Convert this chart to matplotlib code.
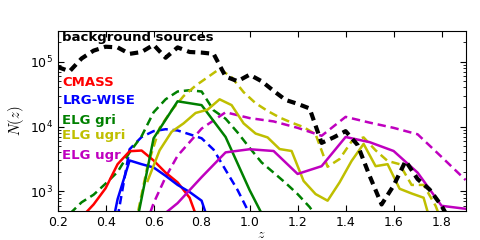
import matplotlib
matplotlib.use("Agg")
import matplotlib.pyplot as plt

# ---- data ----
z_bg = [0.2, 0.25, 0.3, 0.35, 0.4, 0.45, 0.5, 0.55, 0.6, 0.65, 0.7, 0.75, 0.8, 0.85,
        0.9, 0.95, 1.0, 1.05, 1.1, 1.15, 1.2, 1.25, 1.3, 1.35, 1.4, 1.45, 1.5, 1.55,
        1.6, 1.65, 1.7, 1.75, 1.8, 1.85, 1.9]
n_bg = [83000, 71000, 112000, 148000, 170000, 166000, 132000, 141000, 182000, 115000,
        166000, 141000, 138000, 132000, 59000, 50000, 63000, 50000, 35500, 25700,
        22400, 19000, 5600, 6800, 8500, 5200, 1740, 630, 1230, 2950, 1550, 1070,
        600, 280, 200]

z_cmass = [0.3, 0.35, 0.4, 0.45, 0.5, 0.55, 0.6, 0.65, 0.7, 0.75, 0.8]
n_cmass = [400, 630, 1120, 2630, 4170, 4270, 3000, 1950, 1380, 800, 250]

z_lrg = [0.4, 0.45, 0.5, 0.55, 0.6, 0.65, 0.7, 0.75, 0.8, 0.85]
n_lrg = [95, 760, 3000, 2630, 2340, 1740, 1260, 980, 720, 200]

z_lrg_d = [0.45, 0.5, 0.55, 0.6, 0.65, 0.7, 0.75, 0.8, 0.85, 0.9, 0.95, 1.0]
n_lrg_d = [400, 4470, 6900, 8500, 9100, 8700, 7600, 6600, 4400, 2140, 1050, 450]

z_gri = [0.5, 0.6, 0.7, 0.8, 0.9, 1.0, 1.1]
n_gri = [93, 6600, 24500, 21400, 6900, 1050, 200]

z_gri_d = [0.2, 0.25, 0.3, 0.35, 0.4, 0.45, 0.5, 0.55, 0.6, 0.65, 0.7, 0.75, 0.8,
           0.85, 0.9, 0.95, 1.0, 1.05, 1.1, 1.15, 1.2, 1.25, 1.3]
n_gri_d = [200, 450, 680, 890, 1320, 2000, 4000, 7100, 16600, 26300, 34700, 36300,
           34700, 17800, 13200, 8100, 4700, 2800, 1950, 1350, 910, 575, 320]

z_ugri = [0.575, 0.625, 0.675, 0.725, 0.775, 0.825, 0.875, 0.925, 0.975, 1.025,
          1.075, 1.125, 1.175, 1.225, 1.275, 1.325, 1.375, 1.425, 1.475, 1.525,
          1.575, 1.625, 1.675, 1.725, 1.775]
n_ugri = [1450, 4300, 8300, 11200, 16200, 18200, 26300, 21400, 11200, 7800, 6800,
          4500, 4200, 1450, 910, 720, 1380, 2950, 5400, 2450, 2630, 1100, 930, 800, 180]

z_ugri_d = [0.525, 0.575, 0.625, 0.675, 0.725, 0.775, 0.825, 0.875, 0.925, 0.975,
            1.025, 1.075, 1.125, 1.175, 1.225, 1.275, 1.325, 1.375, 1.425, 1.475,
            1.525, 1.575, 1.625, 1.675, 1.725, 1.775, 1.825]
n_ugri_d = [320, 2500, 9500, 17800, 29500, 42700, 57500, 77600, 57500, 33900, 22900,
            17400, 13800, 11500, 9800, 7600, 2400, 3160, 5900, 6800, 4300, 2950, 2630,
            1260, 1260, 600, 200]

z_ugr = [0.6, 0.7, 0.8, 0.9, 1.0, 1.1, 1.2, 1.3, 1.4, 1.5, 1.6, 1.7, 1.8, 1.9]
n_ugr = [330, 660, 1660, 4000, 4470, 4200, 1860, 2450, 6900, 5750, 4200, 1950, 600, 540]

z_ugr_d = [0.55, 0.6, 0.65, 0.7, 0.8, 0.9, 1.0, 1.1, 1.2, 1.3, 1.4, 1.5, 1.6, 1.7, 1.8, 1.9]
n_ugr_d = [200, 660, 1660, 3550, 9300, 16600, 13500, 12000, 9550, 7200, 14100, 11500,
           9550, 7600, 3400, 1500]

labels = ["background sources", "CMASS", "LRG-WISE", "ELG gri", "ELG ugri", "ELG ugr"]
label_y = [234000, 48500, 24800, 12200, 7300, 3600]

# ---- style ----
plt.rcParams['lines.scale_dashes'] = False
plt.rcParams['xtick.direction'] = 'in'
plt.rcParams['ytick.direction'] = 'in'
plt.rcParams['xtick.top'] = True
plt.rcParams['ytick.right'] = True
plt.rcParams['xtick.major.size'] = 4
plt.rcParams['ytick.major.size'] = 4
plt.rcParams['ytick.minor.size'] = 2
plt.rcParams['font.size'] = 9
plt.rcParams['mathtext.fontset'] = 'cm'

fig = plt.figure(figsize=(4.8, 2.4), dpi=100)
ax = fig.add_axes([0.120, 0.121, 0.850, 0.751])

c_y = (0.75, 0.75, 0.0)
c_m = (0.75, 0.0, 0.75)
c_g = (0.0, 0.5, 0.0)
dash = (6, 3.5)
lw = 1.8

ax.plot(z_lrg_d, n_lrg_d, color='b', lw=lw, dashes=dash)
ax.plot(z_gri_d, n_gri_d, color=c_g, lw=lw, dashes=dash)
ax.plot(z_ugri_d, n_ugri_d, color=c_y, lw=lw, dashes=dash)
ax.plot(z_ugr_d, n_ugr_d, color=c_m, lw=lw, dashes=dash)
ax.plot(z_cmass, n_cmass, color='r', lw=lw)
ax.plot(z_lrg, n_lrg, color='b', lw=lw)
ax.plot(z_gri, n_gri, color=c_g, lw=lw)
ax.plot(z_ugri, n_ugri, color=c_y, lw=lw)
ax.plot(z_ugr, n_ugr, color=c_m, lw=lw)
ax.plot(z_bg, n_bg, color='k', lw=3, dashes=(6, 4))

ax.set_yscale('log')
ax.set_xlim(0.2, 1.9)
ax.set_ylim(500, 3e5)
ax.set_xticks([0.2, 0.4, 0.6, 0.8, 1.0, 1.2, 1.4, 1.6, 1.8])
ax.set_xticklabels(['0.2', '0.4', '0.6', '0.8', '1.0', '1.2', '1.4', '1.6', '1.8'])
ax.set_xlabel('$z$', fontsize=10, labelpad=-1)
ax.set_ylabel('$N(z)$', fontsize=10.5, labelpad=3)

colors = ['k', 'r', 'b', c_g, c_y, c_m]
for lab, yy, cc in zip(labels, label_y, colors):
    ax.text(0.22, yy, lab, color=cc, fontsize=9.5, fontweight='bold',
            va='center', ha='left', zorder=1)

fig.savefig('out.png', dpi=100)
